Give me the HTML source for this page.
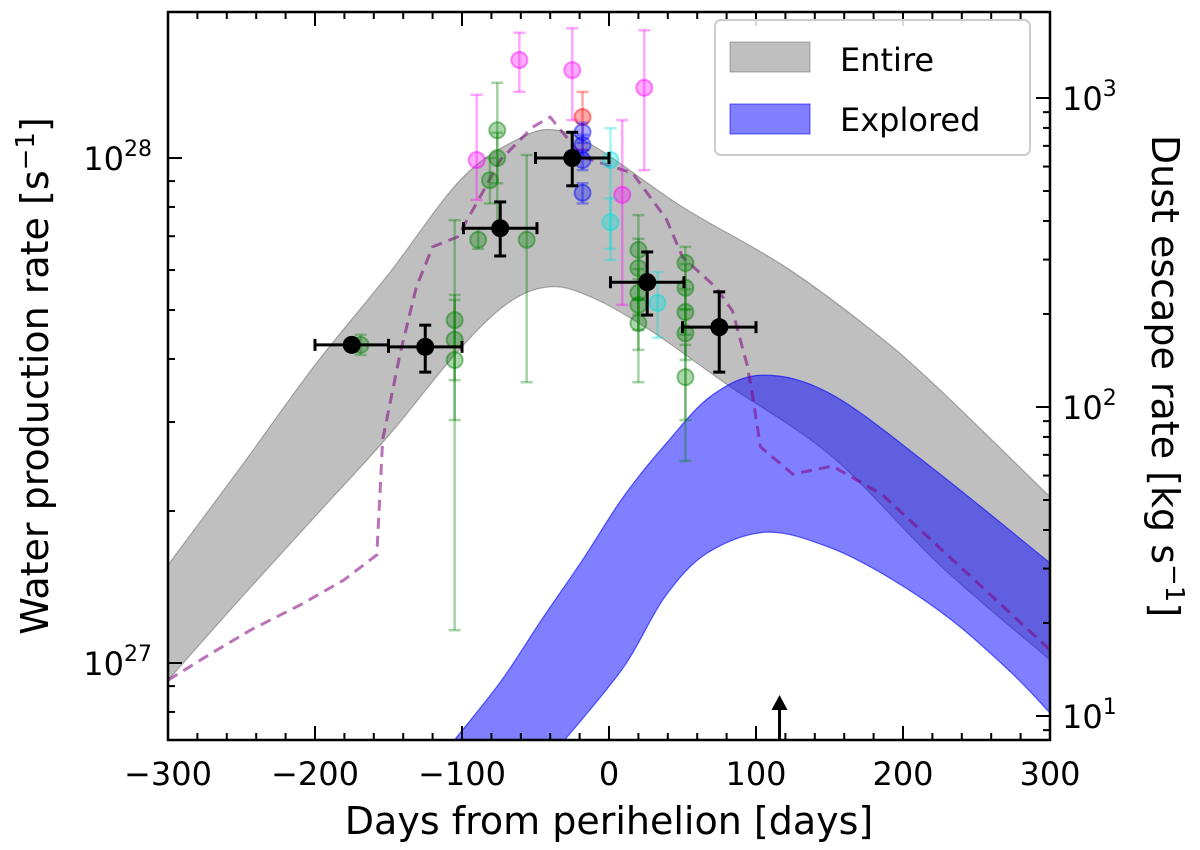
<!DOCTYPE html>
<html><head><meta charset="utf-8">
<style>
html,body{margin:0;padding:0;background:#fff;}
svg{display:block;font-family:"DejaVu Sans","Liberation Sans",sans-serif;}
</style></head>
<body>
<svg id="chart" width="1200" height="850" viewBox="0 0 1200 850" xmlns="http://www.w3.org/2000/svg">
<defs><clipPath id="plotclip"><rect x="168" y="12" width="882" height="728"/></clipPath></defs>
<g id="plot" clip-path="url(#plotclip)"></g>
<g id="axes"></g>
</svg>
<script>
// ---- data (days from perihelion, log10 water production rate) ----
const grayUpperDays=[-300,-250,-200,-150,-100,-60,-35,-6,50,118,176,220,300];
const grayUpperLog=[27.194,27.39,27.59,27.77,27.96,28.04,28.055,28.016,27.903,27.788,27.665,27.555,27.329];
const grayLowerDays=[-300,-250,-200,-150,-105,-70,-40,-10,30,80,152,225,300];
const grayLowerLog=[26.966,27.13,27.29,27.45,27.61,27.71,27.745,27.722,27.655,27.552,27.408,27.194,27.006];
const blueUpperDays=[-105,-73,-46,-18,10,39,70,105,152,220,300];
const blueUpperLog=[26.848,26.966,27.085,27.204,27.33,27.435,27.53,27.570,27.531,27.386,27.198];
const blueLowerDays=[-30,10,38,67,107,149,190,233,274,300];
const blueLowerLog=[26.848,26.992,27.131,27.218,27.259,27.230,27.170,27.085,26.980,26.901];
const dashDays=[-300,-270,-244,-210,-180,-158,-156,-154,-142,-131,-120,-103,-90,-74,-52,-40,-18,16,39,50,73,84,94,98,103,125,152,186,300];
const dashLog=[26.966,27.02,27.065,27.115,27.165,27.214,27.323,27.442,27.614,27.745,27.824,27.844,27.911,27.996,28.061,28.081,28.002,27.970,27.879,27.804,27.743,27.697,27.590,27.523,27.428,27.374,27.390,27.333,27.026];
// green observations
const greenDays=[-169,-105,-105,-105,-89,-76,-76,-81,-56,20,20,20,20,20,52,52,52,52,52];
const greenLog=[27.630,27.679,27.640,27.600,27.838,28.055,28.0,27.956,27.838,27.818,27.782,27.733,27.709,27.673,27.792,27.743,27.695,27.653,27.566];
const greenLo=[27.61,27.560,27.065,27.481,27.82,27.857,27.95,27.91,27.556,27.556,27.72,27.69,27.66,27.62,27.481,27.70,27.65,27.60,27.40];
const greenHi=[27.65,27.729,27.877,27.719,27.86,28.149,28.05,28.0,28.006,27.887,27.84,27.78,27.76,27.72,27.824,27.79,27.74,27.70,27.63];
const magentaDays=[-90,-61,-25,24,9];
const magentaLog=[27.996,28.194,28.174,28.139,27.927];
const magentaLo=[27.917,28.131,28.075,27.976,27.709];
const magentaHi=[28.125,28.248,28.257,28.253,28.075];
const redDays=[-18];const redLog=[28.081];const redLo=[28.016];const redHi=[28.131];
const blueDays=[-18,-18,-18,-18];const blueLog=[28.051,28.026,27.996,27.931];
const blueLo=[28.03,28.006,27.976,27.91];const blueHi=[28.07,28.046,28.016,27.95];
const cyanDays=[1,1,33];const cyanLog=[27.996,27.873,27.713];
const cyanLo=[27.798,27.82,27.644];const cyanHi=[28.059,27.92,27.774];
// binned black points
const blackDays=[-175,-125,-74,-25,26,75];
const blackXerr=[25,25,25,25,25,25];
const blackLog=[27.630,27.626,27.861,28.0,27.754,27.665];
const blackLo=[27.630,27.576,27.806,27.945,27.689,27.576];
const blackHi=[27.630,27.669,27.913,28.051,27.814,27.735];
const arrowDay=116;
const xTicks=[-300,-200,-100,0,100,200,300];
const xTickLabels=["\u2212300","\u2212200","\u2212100","0","100","200","300"];
const leftTicks=[27,28];
const rightTicks=[1,2,3];

// ---- axis functions ----
const X0=168,X1=1050,Y0=12,Y1=740;
function sx(d){return X0+(d+300)/600*(X1-X0);}
function sy(l){return 158+(28-l)*505;}
function syR(l){return 98+(3-l)*309;}
const NS="http://www.w3.org/2000/svg";
const plot=document.getElementById('plot'),axes=document.getElementById('axes');
function mk(tag,attrs,parent){const e=document.createElementNS(NS,tag);for(const k in attrs)e.setAttribute(k,attrs[k]);parent.appendChild(e);return e;}
function smooth(pts){let d="M"+pts[0][0]+","+pts[0][1];
 for(let i=0;i<pts.length-1;i++){const p0=pts[i-1]||pts[i],p1=pts[i],p2=pts[i+1],p3=pts[i+2]||p2;
  const c1=[p1[0]+(p2[0]-p0[0])/6,p1[1]+(p2[1]-p0[1])/6],c2=[p2[0]-(p3[0]-p1[0])/6,p2[1]-(p3[1]-p1[1])/6];
  d+=" C"+c1[0]+","+c1[1]+" "+c2[0]+","+c2[1]+" "+p2[0]+","+p2[1];}
 return d;}
function band(ud,ul,ld,ll,fill,stroke,name){
 const up=ud.map((d,i)=>[sx(d),sy(ul[i])]);
 const lo=ld.map((d,i)=>[sx(d),sy(ll[i])]);
 const dUp=smooth(up);
 const dLoRev=smooth(lo.slice().reverse());
 const p=mk('path',{d:dUp+" L"+dLoRev.slice(1)+" Z",fill:fill,stroke:stroke,'stroke-width':1.2},plot);
 
 
}
band(grayUpperDays,grayUpperLog,grayLowerDays,grayLowerLog,"rgba(128,128,128,0.5)","rgba(100,100,100,0.5)","entire-band");
band(blueUpperDays,blueUpperLog,blueLowerDays,blueLowerLog,"rgba(0,0,255,0.5)","rgba(0,0,255,0.6)","explored-band");
// dashed line
{const pts=dashDays.map((d,i)=>sx(d)+","+sy(dashLog[i])).join(" ");
 const l=mk('polyline',{points:pts,fill:'none',stroke:'rgba(128,0,128,0.55)','stroke-width':3,'stroke-dasharray':'11,7'},plot);
 
 }
function series(days,logs,lo,hi,color,name){
 const g=mk('g',{},plot);
 
 
 days.forEach((d,i)=>{const x=sx(d);
  mk('line',{x1:x,x2:x,y1:sy(lo[i]),y2:sy(hi[i]),stroke:color,'stroke-width':2.5,'stroke-opacity':0.35},g);
  mk('line',{x1:x-6,x2:x+6,y1:sy(lo[i]),y2:sy(lo[i]),stroke:color,'stroke-width':2.5,'stroke-opacity':0.35},g);
  mk('line',{x1:x-6,x2:x+6,y1:sy(hi[i]),y2:sy(hi[i]),stroke:color,'stroke-width':2.5,'stroke-opacity':0.35},g);
  const c=mk('circle',{cx:x,cy:sy(logs[i]),r:8,fill:color,'fill-opacity':0.33,stroke:color,'stroke-opacity':0.45,'stroke-width':2},g);
  
  
 });}
series(greenDays,greenLog,greenLo,greenHi,"#008000","green-observations");
series(magentaDays,magentaLog,magentaLo,magentaHi,"#ff00ff","magenta-observations");
series(redDays,redLog,redLo,redHi,"#ff0000","red-observations");
series(blueDays,blueLog,blueLo,blueHi,"#0000ff","blue-observations");
series(cyanDays,cyanLog,cyanLo,cyanHi,"#00e0e0","cyan-observations");
{const g=mk('g',{},plot);
 
 
 blackDays.forEach((d,i)=>{const x=sx(d),y=sy(blackLog[i]),xa=sx(d-blackXerr[i]),xb=sx(d+blackXerr[i]);
  mk('line',{x1:xa,x2:xb,y1:y,y2:y,stroke:'#000','stroke-width':3},g);
  mk('line',{x1:xa,x2:xa,y1:y-6,y2:y+6,stroke:'#000','stroke-width':3},g);
  mk('line',{x1:xb,x2:xb,y1:y-6,y2:y+6,stroke:'#000','stroke-width':3},g);
  if(blackHi[i]!==blackLo[i]){
   mk('line',{x1:x,x2:x,y1:sy(blackLo[i]),y2:sy(blackHi[i]),stroke:'#000','stroke-width':3},g);
   mk('line',{x1:x-6,x2:x+6,y1:sy(blackLo[i]),y2:sy(blackLo[i]),stroke:'#000','stroke-width':3},g);
   mk('line',{x1:x-6,x2:x+6,y1:sy(blackHi[i]),y2:sy(blackHi[i]),stroke:'#000','stroke-width':3},g);}
  const c=mk('circle',{cx:x,cy:y,r:9,fill:'#000'},g);
  
  
 });}
// arrow
{const x=sx(arrowDay);const g=mk('g',{},plot);
 
 
 mk('line',{x1:x,x2:x,y1:Y1,y2:708,stroke:'#000','stroke-width':3},g);
 mk('polygon',{points:(x-8)+",710 "+(x+8)+",710 "+x+",695",fill:'#000'},g);}

// ---- axes ----
mk('rect',{x:X0,y:Y0,width:X1-X0,height:Y1-Y0,fill:'none',stroke:'#000','stroke-width':2.5},axes);
for(let d=-300;d<=300;d+=20){const x=sx(d);const major=d%100===0;const L=major?14:7;
 mk('line',{x1:x,x2:x,y1:Y1,y2:Y1-L,stroke:'#000','stroke-width':2},axes);
 mk('line',{x1:x,x2:x,y1:Y0,y2:Y0+L,stroke:'#000','stroke-width':2},axes);}
xTicks.forEach((t,i)=>{const e=mk('text',{x:sx(t),y:785,'font-size':32,'text-anchor':'middle',fill:'#000'},axes);e.textContent=xTickLabels[i];
 
 });
// left log ticks
for(let dec=26;dec<=28;dec++)for(let m=1;m<10;m++){const y=sy(dec+Math.log10(m));if(y<Y0||y>Y1)continue;
 mk('line',{x1:X0,x2:X0+(m===1?14:7),y1:y,y2:y,stroke:'#000','stroke-width':2},axes);}
leftTicks.forEach(t=>{const y=sy(t);const e=mk('text',{x:152,y:y+12,'font-size':32,'text-anchor':'end',fill:'#000'},axes);
 e.innerHTML='10<tspan font-size="22" dy="-14">'+t+'</tspan>';
 
 });
// right log ticks
for(let dec=0;dec<=3;dec++)for(let m=1;m<10;m++){const y=syR(dec+Math.log10(m));if(y<Y0||y>Y1)continue;
 mk('line',{x1:X1,x2:X1-(m===1?14:7),y1:y,y2:y,stroke:'#000','stroke-width':2},axes);}
rightTicks.forEach(t=>{const y=syR(t);const e=mk('text',{x:1062,y:y+12,'font-size':32,'text-anchor':'start',fill:'#000'},axes);
 e.innerHTML='10<tspan font-size="22" dy="-14">'+t+'</tspan>';
 
 });
</script>
<svg style="position:absolute;left:0;top:0" width="1200" height="850">
<text x="609" y="834" font-size="38" text-anchor="middle" font-family="DejaVu Sans, Liberation Sans, sans-serif">Days from perihelion [days]</text>
<text transform="translate(48,376) rotate(-90)" font-size="38" text-anchor="middle" font-family="DejaVu Sans, Liberation Sans, sans-serif">Water production rate [s<tspan font-size="26" dy="-14">−1</tspan><tspan dy="14">]</tspan></text>
<text transform="translate(1152,376) rotate(90)" font-size="38" text-anchor="middle" font-family="DejaVu Sans, Liberation Sans, sans-serif">Dust escape rate [kg s<tspan font-size="26" dy="-14">−1</tspan><tspan dy="14">]</tspan></text>
<g>
<rect x="715" y="20" width="315" height="135" rx="6" fill="rgba(255,255,255,0.85)" stroke="#ccc" stroke-width="2"/>
<rect x="730" y="42" width="80" height="30" fill="rgba(128,128,128,0.5)" stroke="rgba(100,100,100,0.5)"/>
<text x="840" y="71" font-size="32" font-family="DejaVu Sans, Liberation Sans, sans-serif">Entire</text>
<rect x="730" y="104" width="80" height="30" fill="rgba(0,0,255,0.5)" stroke="rgba(0,0,255,0.6)"/>
<text x="840" y="131" font-size="32" font-family="DejaVu Sans, Liberation Sans, sans-serif">Explored</text>
</g>
</svg>
</body></html>
